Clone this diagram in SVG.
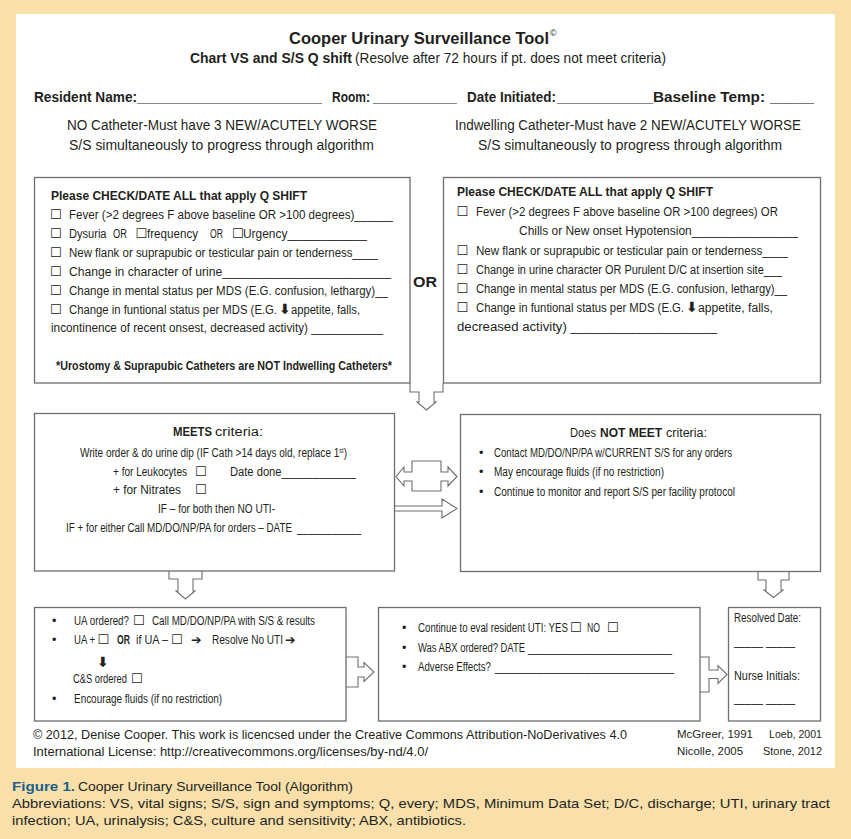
<svg xmlns="http://www.w3.org/2000/svg" width="851" height="839" viewBox="0 0 851 839">
<style>
.t{font-family:"Liberation Sans","DejaVu Sans",sans-serif;fill:#231f20;font-size:12.5px}
.b{font-weight:bold}
.h{font-size:14px}
.cb{font-family:"DejaVu Sans",sans-serif;font-size:13px;font-weight:normal}
.ar{font-family:"DejaVu Sans",sans-serif;font-size:12.5px;font-weight:bold}
.dn{font-family:"DejaVu Sans",sans-serif;font-size:14px;font-weight:bold}
.box{fill:#fff;stroke:#6e6e6e;stroke-width:1.3}
.arr{fill:#fff;stroke:#6e6e6e;stroke-width:1.1;stroke-linejoin:miter}
.f{font-size:12px}
.s{font-size:11px}
.cap{font-size:13.5px}
</style>
<rect x="0" y="0" width="851" height="839" fill="#f9e0aa"/>
<rect x="16" y="14" width="819" height="754" fill="#ffffff"/>

<g id="header">
<text class="t b" x="289" y="44" textLength="260" lengthAdjust="spacingAndGlyphs" style="font-size:16.5px">Cooper Urinary Surveillance Tool</text>
<text class="t" x="550" y="36" style="font-size:9px">©</text>
<text class="t h" y="63"><tspan class="b" x="190" textLength="162" lengthAdjust="spacingAndGlyphs">Chart VS and S/S Q shift</tspan><tspan x="355" textLength="311" lengthAdjust="spacingAndGlyphs">(Resolve after 72 hours if pt. does not meet criteria)</tspan></text>
<text class="t b h" y="102"><tspan x="34" textLength="103" lengthAdjust="spacingAndGlyphs">Resident Name:</tspan><tspan x="137" textLength="185" lengthAdjust="spacingAndGlyphs">________________________</tspan><tspan x="332" textLength="38" lengthAdjust="spacingAndGlyphs">Room:</tspan><tspan x="373" textLength="84" lengthAdjust="spacingAndGlyphs">___________</tspan><tspan x="467" textLength="89" lengthAdjust="spacingAndGlyphs">Date Initiated:</tspan><tspan x="557" textLength="96" lengthAdjust="spacingAndGlyphs">____________</tspan><tspan x="653" textLength="112" lengthAdjust="spacingAndGlyphs">Baseline Temp:</tspan><tspan x="770" textLength="44" lengthAdjust="spacingAndGlyphs">_______</tspan></text>
<text class="t h" x="67" y="130" textLength="310" lengthAdjust="spacingAndGlyphs">NO Catheter-Must have 3 NEW/ACUTELY WORSE</text>
<text class="t h" x="69" y="149.5" textLength="305" lengthAdjust="spacingAndGlyphs">S/S simultaneously to progress through algorithm</text>
<text class="t h" x="455" y="130" textLength="346" lengthAdjust="spacingAndGlyphs">Indwelling Catheter-Must have 2 NEW/ACUTELY WORSE</text>
<text class="t h" x="478" y="149.5" textLength="304" lengthAdjust="spacingAndGlyphs">S/S simultaneously to progress through algorithm</text>
</g>

<g id="connectors">
<path class="arr" d="M410,383 V392 H419 V402 H417 L426.5,410 L436,402 H434 V392 H443 V383"/>
<path class="arr" d="M169,571 V579 H178 V591 H176 L185.5,599 L195,591 H193 V579 H202 V571"/>
<path class="arr" d="M758,572 V580 H766 V590 H764 L773.5,597.5 L783,590 H781 V580 H789 V572"/>
<path class="arr" d="M412,461 H441 V472 H448 V467 L457,476.5 L448,486 V481 H441 V491 H412 V481 H404 V486 L396,476.5 L404,467 V472 H412 Z"/>
<path class="arr" d="M279,502 H345 V506 H442 V499 L457,508.5 L442,518 V511 H345 V515 H279 Z"/>
<path class="arr" d="M346,657 H358 V667 H364 V662.5 L374,672 L364,681.5 V677 H358 V687 H346"/>
<path class="arr" d="M700,657 H709 V670 H718 V665.5 L727,674.5 L718,683.5 V678.5 H709 V692 H700"/>
</g>

<g id="node-no-catheter">
<rect class="box" x="34.5" y="177.5" width="375.5" height="205.5"/>
<text class="t b" x="51" y="200" textLength="256" lengthAdjust="spacingAndGlyphs">Please CHECK/DATE ALL that apply Q SHIFT</text>
<text class="t" y="218.5"><tspan class="cb" x="50">☐</tspan><tspan x="69" textLength="324" lengthAdjust="spacingAndGlyphs">Fever (&gt;2 degrees F above baseline OR &gt;100 degrees)______</tspan></text>
<text class="t" y="237.5"><tspan class="cb" x="50">☐</tspan><tspan x="69" textLength="37.5" lengthAdjust="spacingAndGlyphs">Dysuria</tspan><tspan x="113" textLength="14" lengthAdjust="spacingAndGlyphs">OR</tspan><tspan class="cb" x="135.5">☐</tspan><tspan x="147" textLength="51" lengthAdjust="spacingAndGlyphs">frequency</tspan><tspan x="210" textLength="13" lengthAdjust="spacingAndGlyphs">OR</tspan><tspan class="cb" x="232">☐</tspan><tspan x="243" textLength="124" lengthAdjust="spacingAndGlyphs">Urgency____________</tspan></text>
<text class="t" y="256.5"><tspan class="cb" x="50">☐</tspan><tspan x="69" textLength="309" lengthAdjust="spacingAndGlyphs">New flank or suprapubic or testicular pain or tenderness____</tspan></text>
<text class="t" y="275.5"><tspan class="cb" x="50">☐</tspan><tspan x="69" textLength="322" lengthAdjust="spacingAndGlyphs">Change in character of urine_________________________</tspan></text>
<text class="t" y="294.5"><tspan class="cb" x="50">☐</tspan><tspan x="69" textLength="319" lengthAdjust="spacingAndGlyphs">Change in mental status per MDS (E.G. confusion, lethargy)__</tspan></text>
<text class="t" y="313.5"><tspan class="cb" x="50">☐</tspan><tspan x="69" textLength="208" lengthAdjust="spacingAndGlyphs">Change in funtional status per MDS (E.G.</tspan><tspan class="dn" x="279">⬇</tspan><tspan x="291" textLength="69" lengthAdjust="spacingAndGlyphs">appetite, falls,</tspan></text>
<text class="t" x="51" y="332" textLength="332" lengthAdjust="spacingAndGlyphs">incontinence of recent onsest, decreased activity) ___________</text>
<text class="t b" x="56" y="370" textLength="336" lengthAdjust="spacingAndGlyphs">*Urostomy &amp; Suprapubic Catheters are NOT Indwelling Catheters*</text>
</g>

<g id="node-or">
<text class="t b" x="413" y="287" style="font-size:14.5px" textLength="24" lengthAdjust="spacingAndGlyphs">OR</text>
</g>

<g id="node-indwelling">
<rect class="box" x="443.5" y="177.5" width="377" height="205.5"/>
<text class="t b" x="457" y="196" textLength="256" lengthAdjust="spacingAndGlyphs">Please CHECK/DATE ALL that apply Q SHIFT</text>
<text class="t" y="215.5"><tspan class="cb" x="456.5">☐</tspan><tspan x="476" textLength="302" lengthAdjust="spacingAndGlyphs">Fever (&gt;2 degrees F above baseline OR &gt;100 degrees) OR</tspan></text>
<text class="t" x="519" y="235" textLength="279" lengthAdjust="spacingAndGlyphs">Chills or New onset Hypotension________________</text>
<text class="t" y="254.5"><tspan class="cb" x="456.5">☐</tspan><tspan x="476" textLength="312" lengthAdjust="spacingAndGlyphs">New flank or suprapubic or testicular pain or tenderness____</tspan></text>
<text class="t" y="273.5"><tspan class="cb" x="456.5">☐</tspan><tspan x="476" textLength="306" lengthAdjust="spacingAndGlyphs">Change in urine character OR Purulent D/C at insertion site___</tspan></text>
<text class="t" y="292.5"><tspan class="cb" x="456.5">☐</tspan><tspan x="476" textLength="311" lengthAdjust="spacingAndGlyphs">Change in mental status per MDS (E.G. confusion, lethargy)__</tspan></text>
<text class="t" y="311.5"><tspan class="cb" x="456.5">☐</tspan><tspan x="476" textLength="208" lengthAdjust="spacingAndGlyphs">Change in funtional status per MDS (E.G.</tspan><tspan class="dn" x="686">⬇</tspan><tspan x="698" textLength="75" lengthAdjust="spacingAndGlyphs">appetite, falls,</tspan></text>
<text class="t" x="457" y="330.5" textLength="260" lengthAdjust="spacingAndGlyphs">decreased activity) ____________________</text>
</g>

<g id="node-meets">
<rect class="box" x="34.5" y="413.5" width="360" height="157.5"/>
<text class="t" y="436"><tspan class="b" x="173" textLength="39" lengthAdjust="spacingAndGlyphs">MEETS</tspan><tspan x="215" textLength="48" lengthAdjust="spacingAndGlyphs">criteria:</tspan></text>
<text class="t" x="80" y="457" textLength="267" lengthAdjust="spacingAndGlyphs">Write order &amp; do urine dip (IF Cath &gt;14 days old, replace 1<tspan style="font-size:7px" dy="-4">st</tspan><tspan dy="4">)</tspan></text>
<text class="t" y="475.5"><tspan x="113" textLength="74" lengthAdjust="spacingAndGlyphs">+ for Leukocytes</tspan><tspan class="cb" x="195">☐</tspan><tspan x="230" textLength="126" lengthAdjust="spacingAndGlyphs">Date done____________</tspan></text>
<text class="t" y="494"><tspan x="113" textLength="68" lengthAdjust="spacingAndGlyphs">+ for Nitrates</tspan><tspan class="cb" x="195">☐</tspan></text>
<text class="t" x="158" y="512.5" textLength="117" lengthAdjust="spacingAndGlyphs">IF – for both then NO UTI-</text>
<text class="t" y="531.5"><tspan x="66" textLength="226" lengthAdjust="spacingAndGlyphs">IF + for either Call MD/DO/NP/PA for orders – DATE</tspan><tspan x="297" textLength="64" lengthAdjust="spacingAndGlyphs">___________</tspan></text>
</g>

<g id="node-not-meet">
<rect class="box" x="460.5" y="414.5" width="360" height="157"/>
<text class="t" y="437"><tspan x="570" textLength="26" lengthAdjust="spacingAndGlyphs">Does</tspan><tspan class="b" x="600" textLength="62" lengthAdjust="spacingAndGlyphs">NOT MEET</tspan><tspan x="666" textLength="41" lengthAdjust="spacingAndGlyphs">criteria:</tspan></text>
<text class="t" y="456.5"><tspan x="479">•</tspan><tspan x="494" textLength="238" lengthAdjust="spacingAndGlyphs">Contact MD/DO/NP/PA w/CURRENT S/S for any orders</tspan></text>
<text class="t" y="476"><tspan x="479">•</tspan><tspan x="494" textLength="170" lengthAdjust="spacingAndGlyphs">May encourage fluids (if no restriction)</tspan></text>
<text class="t" y="495.5"><tspan x="479">•</tspan><tspan x="494" textLength="241" lengthAdjust="spacingAndGlyphs">Continue to monitor and report S/S per facility protocol</tspan></text>
</g>

<g id="node-ua">
<rect class="box" x="34.5" y="607.5" width="311.5" height="113.5"/>
<text class="t" y="625"><tspan x="52">•</tspan><tspan x="74" textLength="55" lengthAdjust="spacingAndGlyphs">UA ordered?</tspan><tspan class="cb" x="133">☐</tspan><tspan x="152" textLength="163" lengthAdjust="spacingAndGlyphs">Call MD/DO/NP/PA with S/S &amp; results</tspan></text>
<text class="t" y="644"><tspan x="52">•</tspan><tspan x="74" textLength="21" lengthAdjust="spacingAndGlyphs">UA +</tspan><tspan class="cb" x="97.5">☐</tspan><tspan class="b" x="117" textLength="13" lengthAdjust="spacingAndGlyphs">OR</tspan><tspan x="136" textLength="32" lengthAdjust="spacingAndGlyphs">if UA –</tspan><tspan class="cb" x="171">☐</tspan><tspan class="ar" x="191">➔</tspan><tspan x="212" textLength="71" lengthAdjust="spacingAndGlyphs">Resolve No UTI</tspan><tspan class="ar" x="285">➔</tspan></text>
<text class="t dn" x="97" y="666.5">⬇</text>
<text class="t" y="683"><tspan x="73" textLength="54" lengthAdjust="spacingAndGlyphs">C&amp;S ordered</tspan><tspan class="cb" x="131">☐</tspan></text>
<text class="t" y="702.5"><tspan x="52">•</tspan><tspan x="74" textLength="148" lengthAdjust="spacingAndGlyphs">Encourage fluids (if no restriction)</tspan></text>
</g>

<g id="node-continue">
<rect class="box" x="378.5" y="607.5" width="321.5" height="113.5"/>
<text class="t" y="631.5"><tspan x="402">•</tspan><tspan x="418" textLength="150" lengthAdjust="spacingAndGlyphs">Continue to eval resident UTI: YES</tspan><tspan class="cb" x="570">☐</tspan><tspan x="587" textLength="13" lengthAdjust="spacingAndGlyphs">NO</tspan><tspan class="cb" x="607">☐</tspan></text>
<text class="t" y="651.5"><tspan x="402">•</tspan><tspan x="418" textLength="107" lengthAdjust="spacingAndGlyphs">Was ABX ordered? DATE</tspan><tspan x="528" textLength="144" lengthAdjust="spacingAndGlyphs">________________________</tspan></text>
<text class="t" y="671"><tspan x="402">•</tspan><tspan x="418" textLength="73" lengthAdjust="spacingAndGlyphs">Adverse Effects?</tspan><tspan x="495" textLength="179" lengthAdjust="spacingAndGlyphs">______________________________</tspan></text>
</g>

<g id="node-resolved">
<rect class="box" x="728.5" y="607.5" width="92" height="113.5"/>
<text class="t" x="734" y="621.5" textLength="67" lengthAdjust="spacingAndGlyphs">Resolved Date:</text>
<text class="t" x="734" y="645" textLength="61" lengthAdjust="spacingAndGlyphs">_____ _____</text>
<text class="t" x="734" y="680" textLength="66" lengthAdjust="spacingAndGlyphs">Nurse Initials:</text>
<text class="t" x="734" y="702" textLength="61" lengthAdjust="spacingAndGlyphs">_____ _____</text>
</g>

<g id="footer">
<text class="t f" x="33" y="739" textLength="594" lengthAdjust="spacingAndGlyphs">© 2012, Denise Cooper. This work is licencsed under the Creative Commons Attribution-NoDerivatives 4.0</text>
<text class="t f" x="33" y="756" textLength="395" lengthAdjust="spacingAndGlyphs">International License: http://creativecommons.org/licenses/by-nd/4.0/</text>
<text class="t s" y="738"><tspan x="677" textLength="76" lengthAdjust="spacingAndGlyphs">McGreer, 1991</tspan><tspan x="769" textLength="53" lengthAdjust="spacingAndGlyphs">Loeb, 2001</tspan></text>
<text class="t s" y="755"><tspan x="677" textLength="66" lengthAdjust="spacingAndGlyphs">Nicolle, 2005</tspan><tspan x="763" textLength="59" lengthAdjust="spacingAndGlyphs">Stone, 2012</tspan></text>
</g>

<g id="caption">
<text class="t cap" y="791"><tspan class="b" style="fill:#1b5f8c" x="12" textLength="63" lengthAdjust="spacingAndGlyphs">Figure 1.</tspan><tspan x="78" textLength="275" lengthAdjust="spacingAndGlyphs">Cooper Urinary Surveillance Tool (Algorithm)</tspan></text>
<text class="t cap" x="12" y="808" textLength="818" lengthAdjust="spacingAndGlyphs">Abbreviations: VS, vital signs; S/S, sign and symptoms; Q, every; MDS, Minimum Data Set; D/C, discharge; UTI, urinary tract</text>
<text class="t cap" x="12" y="825" textLength="454" lengthAdjust="spacingAndGlyphs">infection; UA, urinalysis; C&amp;S, culture and sensitivity; ABX, antibiotics.</text>
</g>
</svg>
